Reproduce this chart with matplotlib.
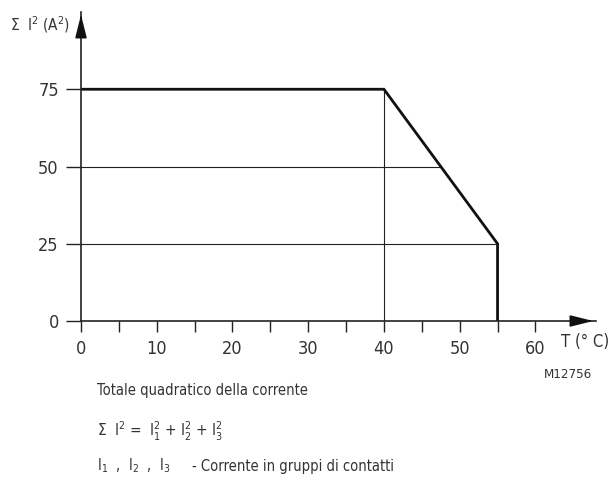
import matplotlib.pyplot as plt
from matplotlib import font_manager

# prefer a condensed face, like the original drawing
cond = [f for f in font_manager.fontManager.ttflist
        if 'Condensed' in f.fname or 'Narrow' in f.fname]
fam = cond[0].name if cond else 'DejaVu Sans'
stretch = cond[0].stretch if cond else 'normal'
plt.rcParams['font.family'] = [fam, 'DejaVu Sans']
plt.rcParams['font.stretch'] = stretch
plt.rcParams['mathtext.fontset'] = 'custom'
plt.rcParams['mathtext.rm'] = fam
plt.rcParams['mathtext.it'] = fam
plt.rcParams['text.color'] = '#333333'

# derating curve
curve_t = [0, 40, 55, 55]
curve_i2 = [75, 75, 25, 0]
grid_levels = [25, 50]
grid_ends = [55, 47.5]
x_major = [0, 10, 20, 30, 40, 50, 60]
x_minor = [5, 15, 25, 35, 45, 55]
y_ticks = [0, 25, 50, 75]

fig = plt.figure(figsize=(6.13, 4.78), dpi=100)
ax = fig.add_axes([81/613, 157/478, 515/613, 309/478])
ax.set_xlim(0, 68)
ax.set_ylim(0, 100)
for s in ['top', 'right']:
    ax.spines[s].set_visible(False)
for s in ['left', 'bottom']:
    ax.spines[s].set_linewidth(1.2)
    ax.spines[s].set_color('#222222')

# arrows
ax.annotate('', xy=(1.0, 0), xytext=(0.98, 0), xycoords='axes fraction',
            arrowprops=dict(arrowstyle='-|>,head_length=1.4,head_width=0.35', color='#111111', lw=1.2))
ax.annotate('', xy=(0, 1.0), xytext=(0, 0.97), xycoords='axes fraction',
            arrowprops=dict(arrowstyle='-|>,head_length=1.4,head_width=0.35', color='#111111', lw=1.2))

for lv, end in zip(grid_levels, grid_ends):
    ax.plot([0, end], [lv, lv], color='#222222', lw=0.8)
ax.plot([40, 40], [0, 75], color='#222222', lw=0.8)
ax.plot(curve_t, curve_i2, color='#111111', lw=2.0, solid_joinstyle='miter')

ax.set_xticks(x_major)
ax.set_xticks(x_minor, minor=True)
ax.set_yticks(y_ticks)
ax.tick_params(axis='x', which='both', length=8, width=1, direction='out', labelsize=13, pad=6,
               color='#222222', labelcolor='#333333')
ax.tick_params(axis='y', length=11, width=1, direction='out', labelsize=13, pad=5,
               color='#222222', labelcolor='#333333')

fig.text(10/613, 1 - 25/478, r'$\Sigma$  I$^2$ (A$^2$)', fontsize=11, va='center', ha='left')
fig.text(609/613, 1 - 342/478, 'T (° C)', fontsize=12, va='center', ha='right')
fig.text(592/613, 1 - 375/478, 'M12756', fontsize=9.5, va='center', ha='right')
fig.text(97/613, 1 - 390/478, 'Totale quadratico della corrente', fontsize=10.5, va='center', ha='left')
fig.text(97/613, 1 - 431/478, r'$\Sigma$  I$^2$ =  I$_1^2$ + I$_2^2$ + I$_3^2$', fontsize=11, va='center', ha='left')
fig.text(97/613, 1 - 466/478, r'I$_1$  ,  I$_2$  ,  I$_3$', fontsize=10.5, va='center', ha='left')
fig.text(192/613, 1 - 466/478, '- Corrente in gruppi di contatti', fontsize=10.5, va='center', ha='left')

fig.savefig('out.png', dpi=100)
